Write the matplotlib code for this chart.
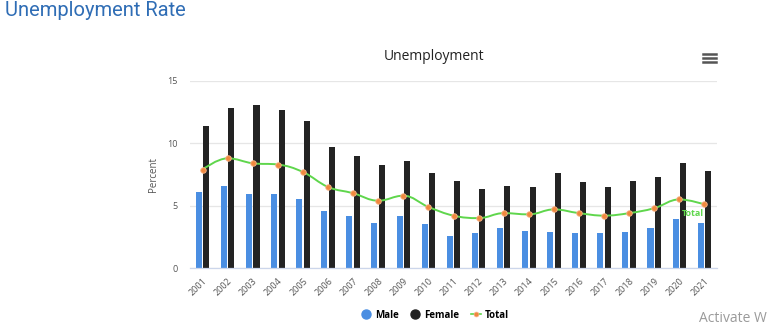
import numpy as np
import matplotlib.pyplot as plt
from matplotlib.path import Path
from matplotlib.patches import PathPatch
from matplotlib.lines import Line2D

# unemployment rates in percent, by year
years = [str(y) for y in range(2001, 2022)]
male = [6.1, 6.6, 5.9, 5.9, 5.5, 4.6, 4.2, 3.6, 4.2, 3.5, 2.6,
        2.8, 3.2, 3.0, 2.9, 2.8, 2.8, 2.9, 3.2, 3.9, 3.6]
female = [11.4, 12.8, 13.1, 12.7, 11.8, 9.7, 9.0, 8.3, 8.6, 7.6, 7.0,
          6.3, 6.6, 6.5, 7.6, 6.9, 6.5, 7.0, 7.3, 8.4, 7.8]
total = [7.9, 8.8, 8.4, 8.3, 7.7, 6.5, 6.0, 5.4, 5.8, 4.9, 4.2,
         4.0, 4.4, 4.3, 4.7, 4.4, 4.2, 4.4, 4.8, 5.5, 5.1]

c_male = '#4a8ee2'
c_female = '#232323'
c_line = '#5fd64c'
c_marker = '#f0883e'


def spline_path(xs, ys, smoothing=1.5):
    # bezier spline through the points, same control point rule as a highcharts spline
    denom = smoothing + 1
    n = len(xs)
    left = [(xs[i], ys[i]) for i in range(n)]
    right = [(xs[i], ys[i]) for i in range(n)]
    for i in range(1, n - 1):
        px, py = xs[i], ys[i]
        lx, ly = xs[i - 1], ys[i - 1]
        nx, ny = xs[i + 1], ys[i + 1]
        lcx = (smoothing * px + lx) / denom
        lcy = (smoothing * py + ly) / denom
        rcx = (smoothing * px + nx) / denom
        rcy = (smoothing * py + ny) / denom
        corr = (rcy - lcy) * (rcx - px) / (rcx - lcx) + py - rcy
        lcy += corr
        rcy += corr
        if lcy > max(ly, py):
            lcy = max(ly, py)
            rcy = 2 * py - lcy
        elif lcy < min(ly, py):
            lcy = min(ly, py)
            rcy = 2 * py - lcy
        if rcy > max(py, ny):
            rcy = max(py, ny)
            lcy = 2 * py - rcy
        elif rcy < min(py, ny):
            rcy = min(py, ny)
            lcy = 2 * py - rcy
        left[i] = (lcx, lcy)
        right[i] = (rcx, rcy)
    verts = [(xs[0], ys[0])]
    codes = [Path.MOVETO]
    for i in range(1, n):
        verts += [right[i - 1], left[i], (xs[i], ys[i])]
        codes += [Path.CURVE4] * 3
    return Path(verts, codes)


fig = plt.figure(figsize=(7.68, 3.26), dpi=100)
ax = fig.add_axes([190 / 768, 58 / 326, 527 / 768, 187 / 326])

x = np.arange(len(years))
w = 0.24
ax.bar(x - 0.15, male, w, color=c_male, zorder=2)
ax.bar(x + 0.15, female, w, color=c_female, zorder=2)

ax.add_patch(PathPatch(spline_path(list(x), total), fill=False,
                       edgecolor=c_line, lw=1.4, zorder=3))
ax.plot(x, total, ls='none', marker='o', ms=4, mfc=c_marker,
        mec='#f7b58a', mew=0.6, zorder=4)
ax.annotate('Total', (x[-1], total[-1]), xytext=(-12, -9),
            textcoords='offset pixels', ha='center', va='center',
            color=c_line, fontsize=6.5, fontweight='bold',
            family='Open Sans', zorder=5)

ax.set_xlim(-0.5, len(years) - 0.5)
ax.set_ylim(0, 15)
ax.set_yticks([0, 5, 10, 15])
ax.yaxis.grid(True, color='#e6e6e6', lw=0.9, zorder=0)
ax.set_axisbelow(True)
for s in ['top', 'right', 'left']:
    ax.spines[s].set_visible(False)
ax.spines['bottom'].set_color('#ccd6eb')
ax.spines['bottom'].set_linewidth(0.9)
ax.tick_params(axis='y', length=0, labelsize=6.5, labelcolor='#555555', pad=9)
ax.tick_params(axis='x', length=0, pad=6)
ax.set_xticks(x)
ax.set_xticklabels(years, rotation=45, ha='right', va='top',
                   rotation_mode='anchor', fontsize=6.5, color='#555555',
                   family='Open Sans')
for lbl in ax.get_yticklabels():
    lbl.set_family('Open Sans')
ax.set_ylabel('Percent', fontsize=7, color='#555555', family='Open Sans',
              labelpad=6)

fig.text(5 / 768, 1 - 10 / 326, 'Unemployment Rate', ha='left', va='center',
         fontsize=14.5, color='#2f6db5', family='Roboto')
fig.text(434 / 768, 1 - 56 / 326, 'Unemployment', ha='center', va='center',
         fontsize=10, color='#222222', family='Open Sans')

# context menu icon
for yy in [54, 58, 62]:
    fig.add_artist(Line2D([703 / 768, 716 / 768], [1 - yy / 326] * 2,
                          color='#555555', lw=1.8))

handles = [
    Line2D([], [], ls='none', marker='o', ms=6.5, mfc=c_male, mec=c_male),
    Line2D([], [], ls='none', marker='o', ms=6.5, mfc=c_female, mec=c_female),
    Line2D([], [], color=c_line, lw=1.2, marker='o', ms=3.5, mfc=c_marker,
           mec='#f7b58a', mew=0.5),
]
fig.legend(handles, ['Male', 'Female', 'Total'], loc='center',
           bbox_to_anchor=(435 / 768, 11 / 326), ncol=3, frameon=False,
           handlelength=1.0, handletextpad=0.4, columnspacing=1.2,
           prop={'family': 'Open Sans', 'weight': 'bold', 'size': 7})

fig.text(767 / 768, 1 - 318 / 326, 'Activate W', ha='right',
         va='center', fontsize=10, color='#9a9a9a', family='Open Sans')

fig.savefig('out.png', dpi=100, facecolor='white')
